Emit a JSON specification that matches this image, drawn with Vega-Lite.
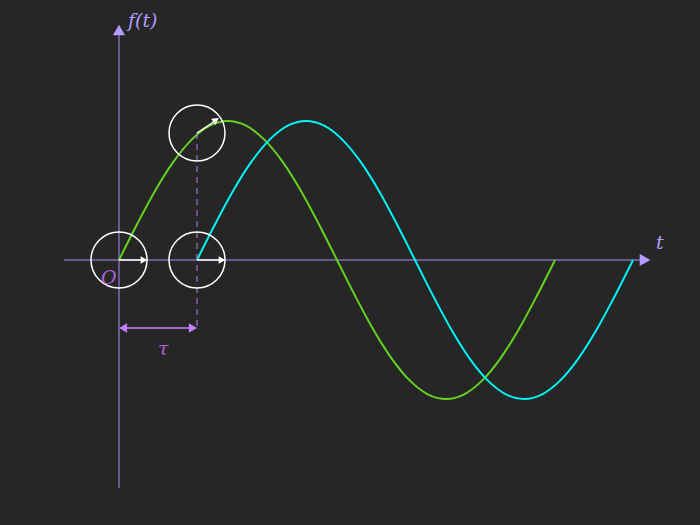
{
  "$schema": "https://vega.github.io/schema/vega-lite/v6.json",
  "width": 700,
  "height": 525,
  "padding": 0,
  "autosize": {"type": "fit", "contains": "padding"},
  "background": "#262626",
  "config": {"view": {"stroke": null}, "axis": {"disable": true}},
  "layer": [
    {
      "data": {"values": [
        {"x": -55, "y": 0, "x2": 525, "y2": 0},
        {"x": 0, "y": -228, "x2": 0, "y2": 230}
      ]},
      "mark": {"type": "rule", "color": "#a98cf5", "strokeWidth": 1},
      "encoding": {
        "x": {"field": "x", "type": "quantitative", "scale": {"domain": [-119, 581], "nice": false, "zero": false}, "axis": null},
        "y": {"field": "y", "type": "quantitative", "scale": {"domain": [-265, 260], "nice": false, "zero": false}, "axis": null},
        "x2": {"field": "x2"},
        "y2": {"field": "y2"}
      }
    },
    {
      "data": {"values": [
        {"x": 526, "y": 0, "shape": "triangle-right"},
        {"x": 0, "y": 230, "shape": "triangle-up"}
      ]},
      "mark": {"type": "point", "filled": true, "color": "#b49cff", "size": 150, "opacity": 1},
      "encoding": {
        "x": {"field": "x", "type": "quantitative"},
        "y": {"field": "y", "type": "quantitative"},
        "shape": {"field": "shape", "type": "nominal", "scale": null, "legend": null}
      }
    },
    {
      "data": {"values": [
        {"s": "a", "x": 0, "y": 0}, {"s": "a", "x": 18.2, "y": 36}, {"s": "a", "x": 36.3, "y": 69.5}, {"s": "a", "x": 54.5, "y": 98.3}, {"s": "a", "x": 72.7, "y": 120.4}, {"s": "a", "x": 90.8, "y": 134.3}, {"s": "a", "x": 109, "y": 139}, {"s": "a", "x": 127.2, "y": 134.3}, {"s": "a", "x": 145.3, "y": 120.4}, {"s": "a", "x": 163.5, "y": 98.3}, {"s": "a", "x": 181.7, "y": 69.5}, {"s": "a", "x": 199.8, "y": 36}, {"s": "a", "x": 218, "y": 0}, {"s": "a", "x": 236.2, "y": -36}, {"s": "a", "x": 254.3, "y": -69.5}, {"s": "a", "x": 272.5, "y": -98.3}, {"s": "a", "x": 290.7, "y": -120.4}, {"s": "a", "x": 308.8, "y": -134.3}, {"s": "a", "x": 327, "y": -139}, {"s": "a", "x": 345.2, "y": -134.3}, {"s": "a", "x": 363.3, "y": -120.4}, {"s": "a", "x": 381.5, "y": -98.3}, {"s": "a", "x": 399.7, "y": -69.5}, {"s": "a", "x": 417.8, "y": -36}, {"s": "a", "x": 436, "y": 0},
        {"s": "b", "x": 78, "y": 0}, {"s": "b", "x": 96.2, "y": 36}, {"s": "b", "x": 114.3, "y": 69.5}, {"s": "b", "x": 132.5, "y": 98.3}, {"s": "b", "x": 150.7, "y": 120.4}, {"s": "b", "x": 168.8, "y": 134.3}, {"s": "b", "x": 187, "y": 139}, {"s": "b", "x": 205.2, "y": 134.3}, {"s": "b", "x": 223.3, "y": 120.4}, {"s": "b", "x": 241.5, "y": 98.3}, {"s": "b", "x": 259.7, "y": 69.5}, {"s": "b", "x": 277.8, "y": 36}, {"s": "b", "x": 296, "y": 0}, {"s": "b", "x": 314.2, "y": -36}, {"s": "b", "x": 332.3, "y": -69.5}, {"s": "b", "x": 350.5, "y": -98.3}, {"s": "b", "x": 368.7, "y": -120.4}, {"s": "b", "x": 386.8, "y": -134.3}, {"s": "b", "x": 405, "y": -139}, {"s": "b", "x": 423.2, "y": -134.3}, {"s": "b", "x": 441.3, "y": -120.4}, {"s": "b", "x": 459.5, "y": -98.3}, {"s": "b", "x": 477.7, "y": -69.5}, {"s": "b", "x": 495.8, "y": -36}, {"s": "b", "x": 514, "y": 0}
      ]},
      "mark": {"type": "line", "interpolate": "monotone", "strokeWidth": 2},
      "encoding": {
        "x": {"field": "x", "type": "quantitative"},
        "y": {"field": "y", "type": "quantitative"},
        "color": {"field": "s", "type": "nominal", "scale": {"domain": ["a", "b"], "range": ["#66d11f", "#00f5f5"]}, "legend": null}
      }
    },
    {
      "data": {"values": [{"x": 78, "y": 127, "y2": -68}]},
      "mark": {"type": "rule", "color": "#b07fe8", "strokeDash": [6, 5], "strokeWidth": 1},
      "encoding": {
        "x": {"field": "x", "type": "quantitative"},
        "y": {"field": "y", "type": "quantitative"},
        "y2": {"field": "y2"}
      }
    },
    {
      "data": {"values": [{"x": 3, "x2": 75, "y": -68}]},
      "mark": {"type": "rule", "color": "#c77dff", "strokeWidth": 1.5},
      "encoding": {
        "x": {"field": "x", "type": "quantitative"},
        "x2": {"field": "x2"},
        "y": {"field": "y", "type": "quantitative"}
      }
    },
    {
      "data": {"values": [
        {"x": 4, "y": -68, "shape": "triangle-left"},
        {"x": 74, "y": -68, "shape": "triangle-right"}
      ]},
      "mark": {"type": "point", "filled": true, "color": "#c77dff", "size": 90, "opacity": 1},
      "encoding": {
        "x": {"field": "x", "type": "quantitative"},
        "y": {"field": "y", "type": "quantitative"},
        "shape": {"field": "shape", "type": "nominal", "scale": null, "legend": null}
      }
    },
    {
      "data": {"values": [{"x": 0, "y": 0}, {"x": 78, "y": 0}, {"x": 78, "y": 127}]},
      "mark": {"type": "point", "shape": "circle", "filled": false, "color": "white", "size": 3136, "strokeWidth": 1.5, "opacity": 1},
      "encoding": {
        "x": {"field": "x", "type": "quantitative"},
        "y": {"field": "y", "type": "quantitative"}
      }
    },
    {
      "data": {"values": [
        {"x": 0, "y": 0, "x2": 24, "y2": 0},
        {"x": 78, "y": 0, "x2": 102, "y2": 0},
        {"x": 78, "y": 127, "x2": 96, "y2": 139}
      ]},
      "mark": {"type": "rule", "color": "white", "strokeWidth": 1.5},
      "encoding": {
        "x": {"field": "x", "type": "quantitative"},
        "y": {"field": "y", "type": "quantitative"},
        "x2": {"field": "x2"},
        "y2": {"field": "y2"}
      }
    },
    {
      "data": {"values": [
        {"x": 25, "y": 0, "a": 0},
        {"x": 103, "y": 0, "a": 0},
        {"x": 97, "y": 140, "a": -34}
      ]},
      "mark": {"type": "point", "shape": "triangle-right", "filled": true, "color": "white", "size": 60, "opacity": 1},
      "encoding": {
        "x": {"field": "x", "type": "quantitative"},
        "y": {"field": "y", "type": "quantitative"},
        "angle": {"field": "a", "type": "quantitative", "scale": null}
      }
    },
    {
      "data": {"values": [
        {"x": 9, "y": 239, "t": "f(t)", "c": "#b49cff"},
        {"x": 537, "y": 17, "t": "t", "c": "#b49cff"},
        {"x": -18, "y": -18, "t": "O", "c": "#b060d8"},
        {"x": 39, "y": -89, "t": "τ", "c": "#b060d8"}
      ]},
      "mark": {"type": "text", "font": "DejaVu Serif", "fontStyle": "italic", "fontSize": 19, "align": "left", "baseline": "middle"},
      "encoding": {
        "x": {"field": "x", "type": "quantitative"},
        "y": {"field": "y", "type": "quantitative"},
        "text": {"field": "t"},
        "color": {"field": "c", "type": "nominal", "scale": null}
      }
    }
  ]
}
